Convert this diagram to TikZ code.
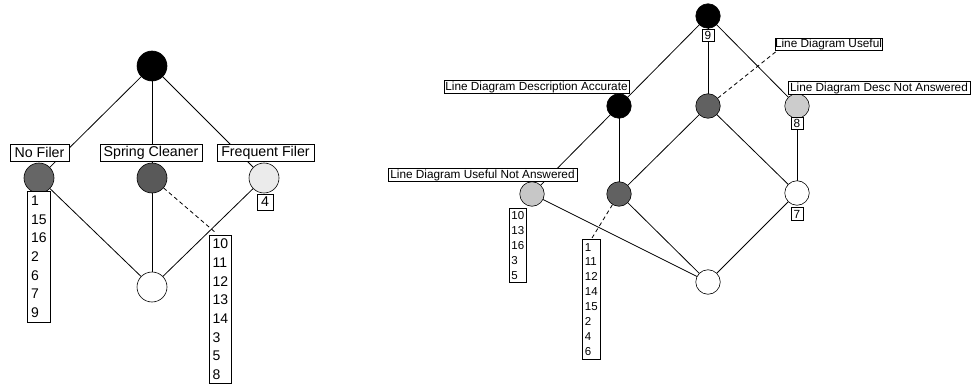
\documentclass[tikz,border=0pt]{standalone}
\usepackage{fontspec}
\setmainfont{Liberation Sans}
\usetikzlibrary{backgrounds}
\begin{document}
\begin{tikzpicture}[x=1pt,y=-1pt,
  edge/.style={draw=black,line width=0.8pt},
  dashedge/.style={draw=black,line width=0.8pt,dashed,dash pattern=on 4pt off 3pt},
  bigc/.style={circle,draw=black,line width=0.6pt,minimum size=30pt,inner sep=0pt},
  smallc/.style={circle,draw=black,line width=0.6pt,minimum size=24.5pt,inner sep=0pt},
  biglab/.style={draw=black,fill=white,line width=0.6pt,inner sep=0pt,minimum height=17pt,font=\fontsize{14.2}{16}\selectfont},
  smalllab/.style={draw=black,fill=white,line width=0.6pt,inner sep=0pt,minimum height=12.5pt,font=\fontsize{11.8}{13}\selectfont},
  biglist/.style={draw=black,fill=white,line width=0.6pt,inner xsep=1.5pt,inner ysep=1pt,align=left,anchor=north west,font=\fontsize{14}{18.7}\selectfont},
  smalllist/.style={draw=black,fill=white,line width=0.6pt,inner xsep=1.5pt,inner ysep=1pt,align=left,anchor=north west,font=\fontsize{11.5}{14.9}\selectfont}
]
\useasboundingbox (0,0) rectangle (971,385);
% ---------- left lattice ----------
\node[bigc,fill=black] (Ltop) at (152,66) {};
\node[bigc,fill=black!60] (Lno) at (39,178) {};
\node[bigc,fill=black!65] (Lspring) at (152,178) {};
\node[bigc,fill=black!8] (Lfreq) at (264,178) {};
\node[bigc,fill=white] (Lbot) at (152,287) {};
\coordinate (Ldashend) at (216,233);
\begin{scope}[on background layer]
\draw[edge] (Ltop.center) -- (Lno.center);
\draw[edge] (Ltop.center) -- (Lspring.center);
\draw[edge] (Ltop.center) -- (Lfreq.center);
\draw[edge] (Lno.center) -- (Lbot.center);
\draw[edge] (Lspring.center) -- (Lbot.center);
\draw[edge] (Lfreq.center) -- (Lbot.center);
\draw[dashedge] (Lspring) -- (Ldashend);
\end{scope}
\node[biglab,minimum width=59pt] (labNo) at (39.5,152.5) {No Filer};
\node[biglab,minimum width=102pt] (labSpring) at (151,152.5) {Spring Cleaner};
\node[biglab,minimum width=97pt] (labFreq) at (265.5,152.5) {Frequent Filer};
\node[biglist,minimum width=23pt,minimum height=131pt] (listNo) at (27,191) {1\\15\\16\\2\\6\\7\\9};
\node[biglab,minimum width=16pt,minimum height=16pt] (list4) at (265,202) {4};
\node[biglist,minimum width=22pt,minimum height=148pt] (listSpring) at (209,235) {10\\11\\12\\13\\14\\3\\5\\8};
% ---------- right lattice ----------
\node[smallc,fill=black] (Rtop) at (708,16) {};
\node[smallc,fill=black] (Racc) at (619,106) {};
\node[smallc,fill=black!62] (Ruse) at (708,106) {};
\node[smallc,fill=black!20] (Rdna) at (797,106) {};
\node[smallc,fill=black!22] (Runa) at (532,194) {};
\node[smallc,fill=black!62] (Rmid) at (619,194) {};
\node[smallc,fill=white] (Rseven) at (797,193) {};
\node[smallc,fill=white] (Rbot) at (708,282) {};
\coordinate (Rusedash) at (778,50);
\coordinate (Rmiddash) at (592,238);
\begin{scope}[on background layer]
\draw[edge] (Rtop.center) -- (Racc.center);
\draw[edge] (Rtop.center) -- (Ruse.center);
\draw[edge] (Rtop.center) -- (Rdna.center);
\draw[edge] (Racc.center) -- (Runa.center);
\draw[edge] (Racc.center) -- (Rmid.center);
\draw[edge] (Ruse.center) -- (Rmid.center);
\draw[edge] (Ruse.center) -- (Rseven.center);
\draw[edge] (Rdna.center) -- (Rseven.center);
\draw[edge] (Runa.center) -- (Rbot.center);
\draw[edge] (Rmid.center) -- (Rbot.center);
\draw[edge] (Rseven.center) -- (Rbot.center);
\draw[dashedge] (Ruse) -- (Rusedash);
\draw[dashedge] (Rmid) -- (Rmiddash);
\end{scope}
\node[smalllab,minimum width=12pt,minimum height=12pt] (l9) at (708,35) {9};
\node[smalllab,minimum width=107pt] (labUse) at (828.5,44.5) {Line Diagram Useful};
\node[smalllab,minimum width=182pt] (labDna) at (879,88) {Line Diagram Desc Not Answered};
\node[smalllab,minimum width=185pt,minimum height=13.5pt] (labAcc) at (536.5,87) {Line Diagram Description Accurate};
\node[smalllab,minimum width=189pt,minimum height=13.5pt] (labUna) at (482.5,175) {Line Diagram Useful Not Answered};
\node[smalllab,minimum width=12pt,minimum height=12pt] (l8) at (797,123) {8};
\node[smalllab,minimum width=12pt,minimum height=13pt] (l7) at (797,214) {7};
\node[smalllist,minimum width=17pt,minimum height=74pt] (listUna) at (509,208) {10\\13\\16\\3\\5};
\node[smalllist,minimum width=18pt,minimum height=120pt] (listMid) at (582,239) {1\\11\\12\\14\\15\\2\\4\\6};
\end{tikzpicture}
\end{document}
